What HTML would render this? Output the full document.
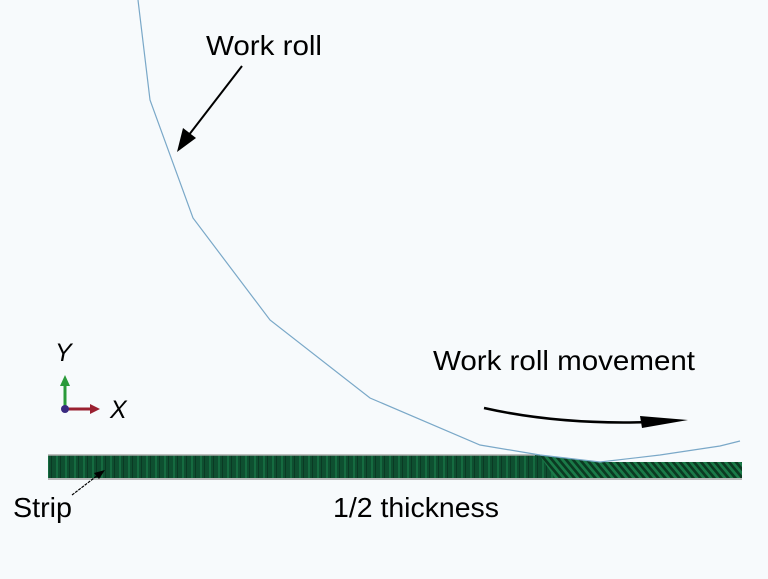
<!DOCTYPE html>
<html><head><meta charset="utf-8"><style>
html,body{margin:0;padding:0;background:#f7fafc;}
svg{display:block;}
text{font-family:"Liberation Sans",sans-serif;fill:#000;}
</style></head><body>
<svg width="768" height="579" viewBox="0 0 768 579" xmlns="http://www.w3.org/2000/svg">
<defs>
<pattern id="vs" width="9" height="30" patternUnits="userSpaceOnUse">
<rect width="9" height="30" fill="#0e4f30"/>
<rect x="2" width="2" height="30" fill="#156b40"/>
<rect x="6" width="1" height="30" fill="#0a3a24"/>
</pattern>
<pattern id="ds" width="7" height="30" patternUnits="userSpaceOnUse" patternTransform="skewX(40)">
<rect width="7" height="30" fill="#0b3a22"/>
<rect x="0" width="3.5" height="30" fill="#1a7a48"/>
</pattern>
</defs>
<rect width="768" height="579" fill="#f7fafc"/>
<polygon points="48,455 535,455 600,462 742,462 742,478 48,478" fill="url(#vs)"/>
<polygon points="540,456 600,462 742,462 742,478 555,478" fill="url(#ds)"/>
<line x1="48" y1="455" x2="535" y2="455" stroke="#a9aaa8" stroke-width="1.5"/>
<line x1="48" y1="479" x2="742" y2="479" stroke="#b8b8b8" stroke-width="2"/>
<polyline points="138,0 150,100 193,218 270,320 370,398 480,445 540,455 600,462 660,455 720,446 740,441" fill="none" stroke="#7aa8c8" stroke-width="1.2"/>
<line x1="242" y1="66" x2="185" y2="140" stroke="#000" stroke-width="2"/>
<polygon points="177,152 183,128 196,138" fill="#000"/>
<text x="206" y="55" font-size="28" textLength="116" lengthAdjust="spacingAndGlyphs">Work roll</text>
<path d="M484,408 Q560,425 650,422" fill="none" stroke="#000" stroke-width="2.5"/>
<polygon points="640,416 688,420 642,428" fill="#000"/>
<text x="433" y="370" font-size="28" textLength="262" lengthAdjust="spacingAndGlyphs">Work roll movement</text>
<line x1="65" y1="409" x2="65" y2="384" stroke="#2a9a3a" stroke-width="3"/>
<polygon points="60,386 65,375 70,386" fill="#2a9a3a"/>
<line x1="65" y1="409" x2="92" y2="409" stroke="#9a2030" stroke-width="3"/>
<polygon points="90,404 100,409 90,414" fill="#9a2030"/>
<circle cx="65" cy="409" r="4" fill="#3a2a80"/>
<text x="55" y="361" font-size="25" font-style="italic">Y</text>
<text x="110" y="418" font-size="25" font-style="italic">X</text>
<line x1="72" y1="495" x2="98" y2="475" stroke="#000" stroke-width="1.2" stroke-dasharray="3,1"/>
<polygon points="105,470 94,473 99,479" fill="#000"/>
<text x="13" y="517" font-size="28" textLength="59" lengthAdjust="spacingAndGlyphs">Strip</text>
<text x="333" y="517" font-size="28" textLength="166" lengthAdjust="spacingAndGlyphs">1/2 thickness</text>
</svg>
</body></html>
